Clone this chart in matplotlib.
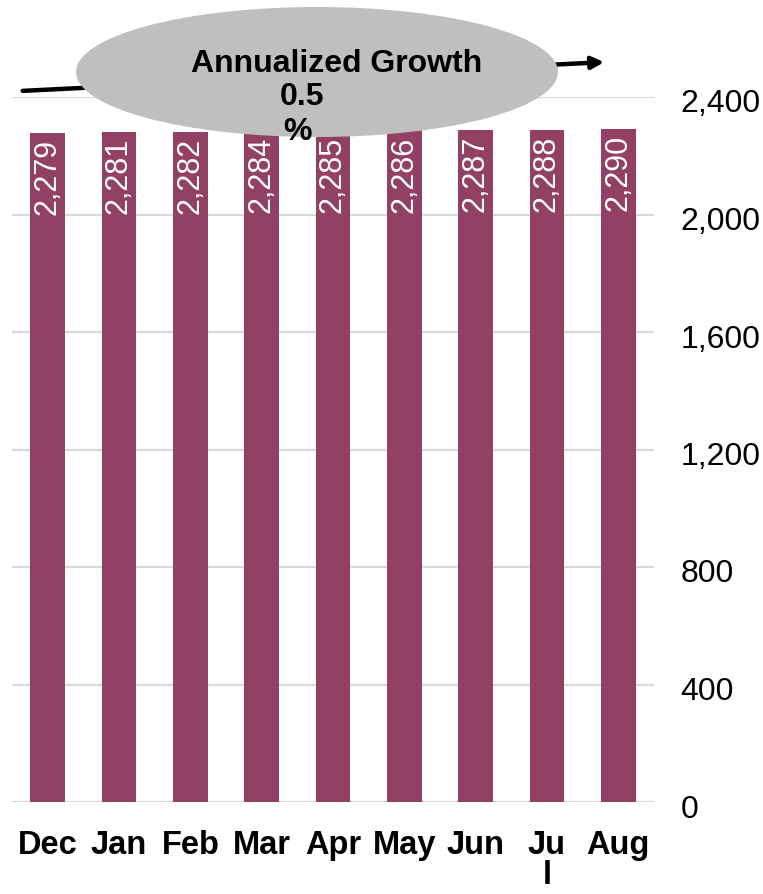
import numpy as np
import matplotlib
matplotlib.use("Agg")
import matplotlib.pyplot as plt
import matplotlib.transforms as mtransforms
from matplotlib.patches import Ellipse, FancyArrowPatch

# ── Data ────────────────────────────────────────────────────────────────────
MONTHS = ["Dec", "Jan", "Feb", "Mar", "Apr", "May", "Jun", "Ju\nl", "Aug"]
VALUES = [2279, 2281, 2282, 2284, 2285, 2286, 2287, 2288, 2290]
Y_TICKS = [0, 400, 800, 1200, 1600, 2000, 2400]
GROWTH_TITLE = "Annualized Growth"
GROWTH_VALUE = "0.5"
GROWTH_UNIT = "%"

BAR_COLOR = "#934065"
GRID_COLOR = "#d9d9d9"
ELLIPSE_COLOR = "#bfbfbf"
FONT = ["Liberation Sans", "DejaVu Sans"]

W, H = 763, 894
fig = plt.figure(figsize=(W / 100, H / 100), dpi=100)

# axes placed in pixel terms of the reference
ax = fig.add_axes([12 / W, 1 - 802 / H, (654 - 12) / W, (802 - 97) / H])

x = np.arange(len(VALUES))
bars = ax.bar(x, VALUES, width=0.49, color=BAR_COLOR, zorder=2)

for bar, val in zip(bars, VALUES):
    ax.text(bar.get_x() + bar.get_width() / 2, val - 20, f"{val:,}",
            rotation=90, ha="center", va="top", color="white",
            fontsize=22, family=FONT, zorder=3)

ax.set_xlim(-0.5, len(VALUES) - 0.5)
ax.set_ylim(0, 2400)
ax.set_xticks(x)
ax.set_xticklabels(MONTHS, fontsize=23.5, fontweight="bold", family=FONT,
                   linespacing=0.95)
ax.yaxis.tick_right()
ax.set_yticks(Y_TICKS)
ax.set_yticklabels([f"{t:,}" for t in Y_TICKS], fontsize=23, family=FONT)
ax.tick_params(axis="x", length=0, pad=20)
ax.tick_params(axis="y", length=0, pad=19)
# labels sit a few pixels below their gridline in the reference
shift = mtransforms.ScaledTranslation(0, -4 / 100, fig.dpi_scale_trans)
for lbl in ax.get_yticklabels():
    lbl.set_transform(lbl.get_transform() + shift)
for sp in ax.spines.values():
    sp.set_visible(False)
ax.grid(True, axis="y", color=GRID_COLOR, linewidth=1.6)
ax.set_axisbelow(True)

# ── Growth annotation ─────────────────────────────────────────────────────────
arrow = FancyArrowPatch((20 / W, 1 - 91 / H), (607 / W, 1 - 62 / H),
                        transform=fig.transFigure, arrowstyle="-|>",
                        mutation_scale=18, linewidth=3.2, color="black",
                        zorder=4)
fig.add_artist(arrow)

ell = Ellipse((317 / W, 1 - 72 / H), 482 / W, 130 / H,
              transform=fig.transFigure, facecolor=ELLIPSE_COLOR,
              edgecolor="none", zorder=5)
fig.add_artist(ell)

fig.text(337 / W, 1 - 72 / H, GROWTH_TITLE, ha="center", va="baseline",
         fontsize=23, fontweight="bold", family=FONT, zorder=6)
fig.text(302 / W, 1 - 105 / H, GROWTH_VALUE, ha="center", va="baseline",
         fontsize=23, fontweight="bold", family=FONT, zorder=6)
fig.text(297 / W, 1 - 140 / H, GROWTH_UNIT, ha="center", va="baseline",
         fontsize=23, fontweight="bold", family=FONT, zorder=6)

fig.savefig("out.png", dpi=100)
